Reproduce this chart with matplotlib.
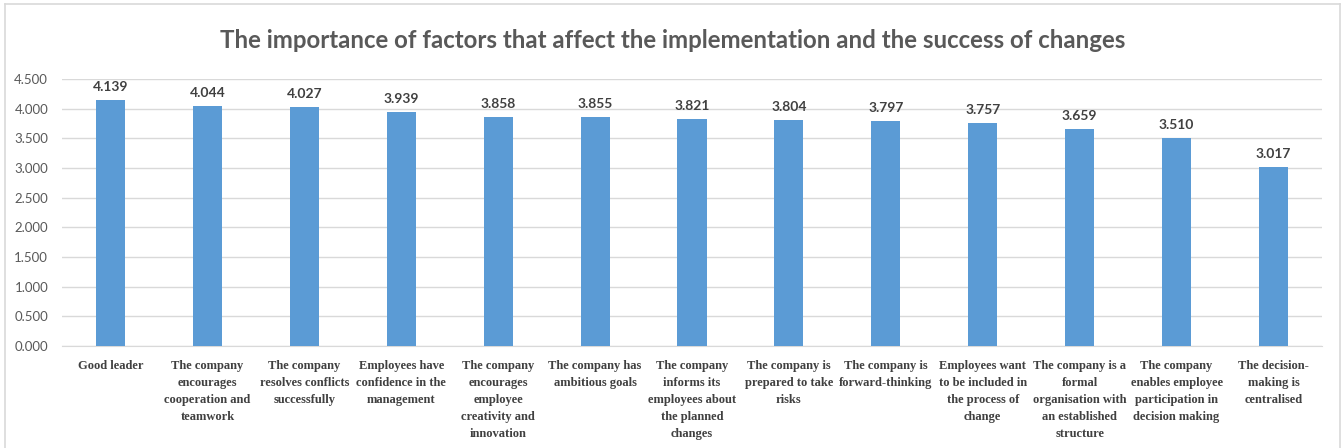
import matplotlib.pyplot as plt
from matplotlib.lines import Line2D

# --- data ---
categories = [
    "Good leader",
    "The company\nencourages\ncooperation and\nteamwork",
    "The company\nresolves conflicts\nsuccessfully",
    "Employees have\nconfidence in the\nmanagement",
    "The company\nencourages\nemployee\ncreativity and\ninnovation",
    "The company has\nambitious goals",
    "The company\ninforms its\nemployees about\nthe planned\nchanges",
    "The company is\nprepared to take\nrisks",
    "The company is\nforward-thinking",
    "Employees want\nto be included in\nthe process of\nchange",
    "The company is a\nformal\norganisation with\nan established\nstructure",
    "The company\nenables employee\nparticipation in\ndecision making",
    "The decision-\nmaking is\ncentralised",
]
values = [4.139, 4.044, 4.027, 3.939, 3.858, 3.855, 3.821, 3.804, 3.797, 3.757, 3.659, 3.510, 3.017]
yticks = [0, 0.5, 1.0, 1.5, 2.0, 2.5, 3.0, 3.5, 4.0, 4.5]
title = "The importance of factors that affect the implementation and the success of changes"

W, H = 1343, 448
fig = plt.figure(figsize=(W / 100, H / 100), dpi=100)
ax = fig.add_axes([62 / W, 1 - 346 / H, (1322 - 62) / W, (346 - 79) / H])

x = range(len(categories))
bars = ax.bar(x, values, width=0.3, color="#5b9bd5", zorder=3)
ax.set_xlim(-0.5, len(categories) - 0.5)
ax.set_ylim(0, 4.5)
ax.set_yticks(yticks)
ax.set_yticklabels([f"{v:.3f}" for v in yticks], fontsize=9.5, color="#595959", family="Lato")
ax.grid(axis="y", color="#d9d9d9", lw=1, zorder=0)
for s in ["top", "right", "left"]:
    ax.spines[s].set_visible(False)
ax.spines["bottom"].set_color("#d9d9d9")
ax.tick_params(length=0, pad=10)
ax.tick_params(axis="x", pad=10)
ax.set_xticks(list(x))
ax.set_xticklabels(categories, fontsize=9, family="Liberation Serif", weight="bold",
                   color="#404040", linespacing=1.55, va="top")

for b, v in zip(bars, values):
    ax.annotate(f"{v:.3f}", (b.get_x() + b.get_width() / 2, v), xytext=(0, 5),
                textcoords="offset points", ha="center", va="bottom",
                fontsize=10, weight="bold", color="#404040", family="Lato")

fig.text(673 / W, 1 - 40 / H, title, ha="center", va="center",
         fontsize=17.3, weight="bold", color="#595959", family="Lato")

# chart border
bc = "#d9d9d9"
fig.add_artist(Line2D([4.5 / W, 4.5 / W], [0, 1 - 4.5 / H], color=bc, lw=1.2, transform=fig.transFigure))
fig.add_artist(Line2D([4.5 / W, 1339.5 / W], [1 - 4.5 / H, 1 - 4.5 / H], color=bc, lw=1.2, transform=fig.transFigure))
fig.add_artist(Line2D([1339.5 / W, 1339.5 / W], [0, 1 - 4.5 / H], color=bc, lw=1.2, transform=fig.transFigure))

fig.savefig("out.png", dpi=100)
